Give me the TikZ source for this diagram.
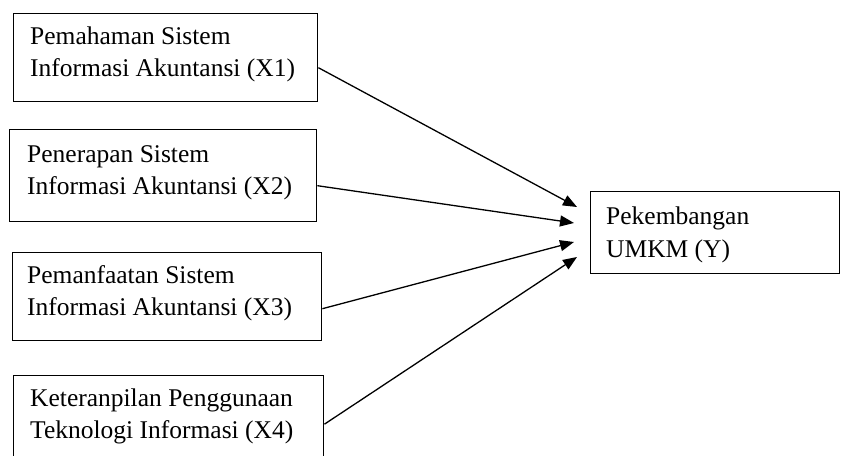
\documentclass[tikz,border=0pt]{standalone}
\usepackage{fontspec}
\setmainfont{Liberation Serif}
\usetikzlibrary{arrows.meta}
\begin{document}
\begin{tikzpicture}[x=1pt,y=-1pt,
  box/.style={draw=black,line width=1.4pt,inner sep=0pt,anchor=north west},
  txt/.style={inner sep=0pt,anchor=base west,font=\fontsize{25.5}{31}\selectfont,text=black},
  arr/.style={draw=black,line width=1.3pt,-{Triangle[length=14pt,width=11pt]}}]
\clip (0,0) rectangle (842,455);
\fill[white] (0,0) rectangle (842,455);
% boxes
\node[box,minimum width=304pt,minimum height=88pt] (x1) at (13,13) {};
\node[box,minimum width=307pt,minimum height=92pt] (x2) at (9,129) {};
\node[box,minimum width=309pt,minimum height=88pt] (x3) at (12,252) {};
\node[box,minimum width=310pt,minimum height=97pt] (x4) at (13,375) {};
\node[box,minimum width=249pt,minimum height=82pt] (y) at (590,191) {};
% texts
\node[txt] (x1a) at (30,44) {Pemahaman Sistem};
\node[txt] (x1b) at (30,76) {Informasi Akuntansi (X1)};
\node[txt] (x2a) at (27,162) {Penerapan Sistem};
\node[txt] (x2b) at (27,194) {Informasi Akuntansi (X2)};
\node[txt] (x3a) at (27,283) {Pemanfaatan Sistem};
\node[txt] (x3b) at (27,315) {Informasi Akuntansi (X3)};
\node[txt] (x4a) at (30,406) {Keteranpilan Penggunaan};
\node[txt] (x4b) at (30,438) {Teknologi Informasi (X4)};
\node[txt] (ya) at (606,224) {Pekembangan};
\node[txt] (yb) at (606,257) {UMKM (Y)};
% arrow ends
\coordinate (t1) at (577,207);
\coordinate (t2) at (574,223);
\coordinate (t3) at (574,242);
\coordinate (t4) at (577,257);
\draw[arr] ([yshift=-10pt]x1.east) -- (t1);
\draw[arr] ([yshift=-10pt]x2.east) -- (t2);
\draw[arr] ([yshift=-12pt]x3.east) -- (t3);
\draw[arr] (x4.east) -- (t4);
\end{tikzpicture}
\end{document}
